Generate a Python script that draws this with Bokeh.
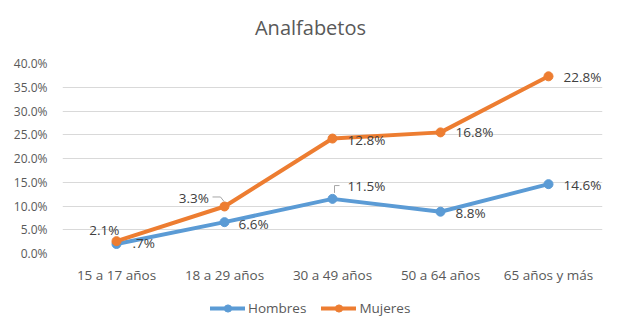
from bokeh.plotting import figure
from bokeh.layouts import column
from bokeh.models import (ColumnDataSource, Range1d, FixedTicker, PrintfTickFormatter,
                          Legend, LegendItem, Label)
from bokeh.core.properties import value
from bokeh.embed import file_html
from bokeh.resources import INLINE

# ---------------- data ----------------
categories = ["15 a 17 años", "18 a 29 años", "30 a 49 años", "50 a 64 años", "65 años y más"]
hombres = [2.0, 6.6, 11.5, 8.8, 14.6]          # plotted positions (%)
mujeres = [2.6, 9.9, 24.2, 25.5, 37.3]         # plotted positions (%)
hombres_labels = [".7%", "6.6%", "11.5%", "8.8%", "14.6%"]
mujeres_labels = ["2.1%", "3.3%", "12.8%", "16.8%", "22.8%"]
series_names = ["Hombres", "Mujeres"]
y_ticks = [0, 5, 10, 15, 20, 25, 30, 35, 40]
title_text = "Analfabetos"

# ---------------- layout / style ----------------
W = 620
HT, H, HL = 45, 245, 41          # title strip, chart, legend strip (sum 331)
FL, FR, FT, FB = 62, 18, 18, 37
FW, FH = W - FL - FR, H - FT - FB
BLUE, ORANGE = "#5b9bd5", "#ed7d31"
TXT, DTXT, GRID = "#595959", "#404040", "#d9d9d9"
FONT = "Open Sans"

xs = [i + 0.5 for i in range(len(categories))]
ymax = y_ticks[-1]
px_x = len(categories) / FW
px_y = ymax / FH


def strip(height):
    f = figure(width=W, height=height, x_range=Range1d(0, 1), y_range=Range1d(0, 1),
               output_backend="svg", toolbar_location=None,
               x_axis_location=None, y_axis_location=None,
               min_border_left=0, min_border_right=0, min_border_top=0, min_border_bottom=0)
    f.outline_line_color = None
    f.grid.visible = False
    return f


# ---------------- title strip (frame aligned with chart frame) ----------------
tf = strip(HT)
tf.add_layout(Label(x=W / 2 - FL, y=HT - 27, x_units="screen", y_units="screen",
                    text=title_text, text_align="center", text_baseline="middle",
                    text_font=FONT, text_font_size="20px", text_color=TXT))

# ---------------- chart ----------------
p = figure(width=W, height=H, x_range=Range1d(0, len(categories)), y_range=Range1d(0, ymax),
           output_backend="svg", toolbar_location=None,
           min_border_left=FL, min_border_right=FR, min_border_top=FT, min_border_bottom=FB)
p.outline_line_color = None
p.background_fill_color = "white"
p.border_fill_color = "white"

p.yaxis.ticker = FixedTicker(ticks=y_ticks)
p.yaxis.formatter = PrintfTickFormatter(format="%.1f%%")
p.xaxis.ticker = FixedTicker(ticks=xs)
p.xaxis.major_label_overrides = {x: c for x, c in zip(xs, categories)}
for ax in (p.xaxis, p.yaxis):
    ax.axis_line_color = None
    ax.major_tick_line_color = None
    ax.minor_tick_line_color = None
    ax.major_tick_in = 0
    ax.major_tick_out = 0
    ax.minor_tick_out = 0
    ax.major_label_text_color = TXT
    ax.major_label_text_font = FONT
p.yaxis.major_label_text_font_size = "12px"
p.yaxis.major_label_standoff = 15
p.xaxis.major_label_text_font_size = "13.5px"
p.xaxis.major_label_standoff = 12
p.xgrid.grid_line_color = None
p.ygrid.ticker = FixedTicker(ticks=y_ticks)
p.ygrid.grid_line_color = GRID
p.ygrid.grid_line_width = 1

src_h = ColumnDataSource(dict(x=xs, y=hombres, t=hombres_labels))
src_m = ColumnDataSource(dict(x=xs, y=mujeres, t=mujeres_labels))
p.line("x", "y", source=src_h, line_color=BLUE, line_width=4, line_join="round", line_cap="round")
p.scatter("x", "y", source=src_h, size=9, fill_color=BLUE, line_color=BLUE)
p.line("x", "y", source=src_m, line_color=ORANGE, line_width=4, line_join="round", line_cap="round")
p.scatter("x", "y", source=src_m, size=9, fill_color=ORANGE, line_color=ORANGE)

# data labels (pixel offsets are styling)
h_dx = [16, 14, 15, 15, 15]
h_dy = [-1, 2, -12.5, 1, 0.7]
m_dx = [3, -15.5, 15, 15, 15]
m_dy = [-11, -8, 1.7, -0.6, 0.7]
m_align = ["right", "right", "left", "left", "left"]

src_hl = ColumnDataSource(dict(x=xs, y=hombres, t=hombres_labels, dx=h_dx, dy=h_dy))
p.text("x", "y", text="t", source=src_hl, x_offset="dx", y_offset="dy",
       text_align="left", text_baseline="middle", text_color=DTXT,
       text_font=value(FONT), text_font_size="13.5px")
src_ml = ColumnDataSource(dict(x=xs, y=mujeres, t=mujeres_labels, dx=m_dx, dy=m_dy, a=m_align))
p.text("x", "y", text="t", source=src_ml, x_offset="dx", y_offset="dy",
       text_align="a", text_baseline="middle", text_color=DTXT,
       text_font=value(FONT), text_font_size="13.5px")

# leader lines (pixel offsets converted with the frame scale)
def leader(i, series, offs):
    lx = [xs[i] + ox * px_x for ox, oy in offs]
    ly = [series[i] - oy * px_y for ox, oy in offs]
    p.line(lx, ly, line_color="#a6a6a6", line_width=1)

leader(1, mujeres, [(-12, -9.5), (-4, -9.5), (-0.5, -5)])
leader(2, hombres, [(7, -13.3), (2, -13.3), (2, -6)])

# ---------------- legend strip (frame aligned with chart frame) ----------------
lg = strip(HL)
items = []
for name, col in zip(series_names, [BLUE, ORANGE]):
    # renderers kept outside the visible range; they only feed the legend
    r1 = lg.line([-5, -4], [-5, -4], line_color=col, line_width=4, line_cap="round")
    r2 = lg.scatter([-5], [-5], size=9, fill_color=col, line_color=col)
    items.append(LegendItem(label=name, renderers=[r1, r2]))
legend = Legend(items=items, orientation="horizontal", location=(148, 14),
                glyph_width=35, glyph_height=18, label_standoff=3, spacing=15,
                padding=0, margin=0, border_line_color=None, background_fill_alpha=0,
                label_text_font=FONT, label_text_font_size="13.5px", label_text_color=TXT,
                label_height=18)
lg.add_layout(legend)

layout = column(tf, p, lg, spacing=0)
open("out.html", "w").write(file_html(layout, INLINE))
